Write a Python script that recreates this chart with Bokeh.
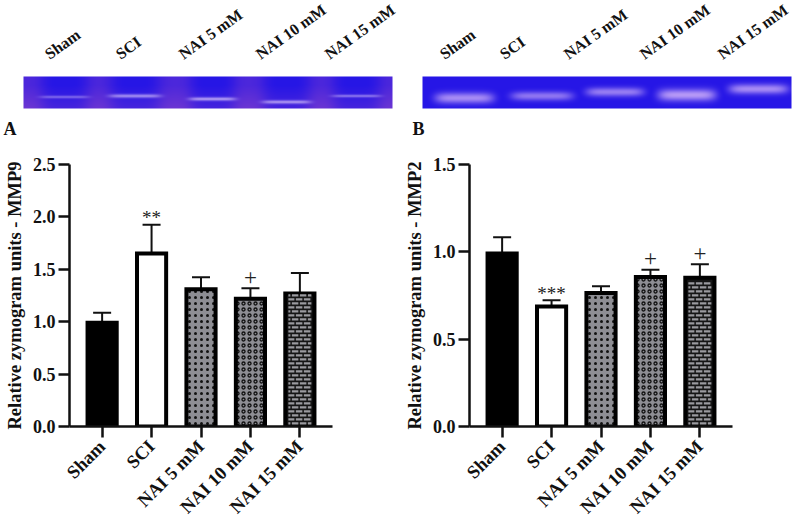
from math import pi

import numpy as np
from bokeh.core.properties import value
from bokeh.embed import file_html
from bokeh.layouts import column, row
from bokeh.models import (ColumnDataSource, FactorRange, FixedTicker,
                          NumeralTickFormatter, Range1d, TeeHead, Whisker)
from bokeh.plotting import figure
from bokeh.resources import INLINE

groups = ["Sham", "SCI", "NAI 5 mM", "NAI 10 mM", "NAI 15 mM"]

mmp9_mean = [0.99, 1.65, 1.31, 1.22, 1.27]
mmp9_top = [1.085, 1.925, 1.425, 1.32, 1.465]
mmp9_marks = ["", "**", "", "+", ""]

mmp2_mean = [0.99, 0.687, 0.765, 0.856, 0.852]
mmp2_top = [1.084, 0.723, 0.803, 0.897, 0.929]
mmp2_marks = ["", "***", "", "+", "+"]

# gel bands: start, end, height in the strip (px), half thickness, brightness
gel_a_bands = [(16, 65, 20, 1.3, 0.45), (85, 137, 19, 1.8, 0.65), (165, 212, 22, 1.7, 0.75),
               (238, 287, 25, 1.7, 0.7), (308, 357, 19, 1.3, 0.55)]
gel_b_bands = [(12, 71, 21, 5.5, 0.85), (88, 150, 19, 4.5, 0.7), (163, 221, 15, 4.5, 0.75),
               (235, 293, 18, 6.0, 0.95), (306, 365, 12, 5.0, 0.85)]
gel_a_labels = [46, 117, 180, 257, 326]
gel_b_labels = [41, 101, 165, 241, 319]

SERIF = "Liberation Serif"
FILLS = ["black", "white", "#8e8e94", "#8e8e94", "#151515"]
HATCH = ["blank", "blank", "dot", "ring", "blank"]
HATCH_COLOR = ["black", "black", "#111111", "#111111", "black"]
HATCH_SCALE = [8, 8, 6, 6, 8]
HATCH_WEIGHT = [1, 1, 0.7, 1.3, 1]
FRAME_W = 263
FRAME_H = 262


def brick_cells(mean, ymax):
    # the brick bar has no hatch of that kind, so its bricks are small quads up the bar
    px_x = 5.32 / FRAME_W
    px_y = ymax / FRAME_H
    left, right, bottom, top = [], [], [], []
    for n, y in enumerate(np.arange(2, mean / px_y - 3, 4)):
        for x in np.arange(-16 + 4 * (n % 2), 14, 8):
            x0, x1 = max(x, -11.5), min(x + 6.5, 11.5)
            if x1 > x0:
                left.append(4.5 + x0 * px_x)
                right.append(4.5 + x1 * px_x)
                bottom.append(y * px_y)
                top.append((y + 2.2) * px_y)
    return left, right, bottom, top


def make_chart(means, tops, marks, ymax, yticks, ylabel, width):
    offsets = [-7 if "*" in m else -11 for m in marks]
    sizes = ["19px" if "*" in m else "23px" for m in marks]
    source = ColumnDataSource(dict(group=groups, mean=means, top=tops, mark=marks, fill=FILLS, off=offsets,
                                   size=sizes, hatch=HATCH, hatch_color=HATCH_COLOR, scale=HATCH_SCALE,
                                   weight=HATCH_WEIGHT))
    p = figure(width=width, height=371, x_range=FactorRange(factors=groups), y_range=Range1d(0, ymax),
               output_backend="svg", toolbar_location=None, frame_align=False,
               frame_width=FRAME_W, frame_height=FRAME_H,
               min_border_left=69, min_border_right=width - 69 - FRAME_W, min_border_top=14, min_border_bottom=95)
    p.x_range.range_padding = 0.16
    p.x_range.range_padding_units = "absolute"
    p.x_range.factor_padding = 0
    p.outline_line_color = None
    p.grid.visible = False

    p.add_layout(Whisker(base="group", upper="top", lower="mean", source=source, line_width=2,
                         line_color="#111111", upper_head=TeeHead(size=18, line_width=2, line_color="#111111"),
                         lower_head=None, level="underlay"))
    p.vbar(x="group", top="mean", bottom=0, width=0.59, source=source, fill_color="fill",
           line_color="black", line_width=4, line_join="miter", hatch_pattern="hatch",
           hatch_color="hatch_color", hatch_scale="scale", hatch_weight="weight", hatch_alpha=1.0)
    left, right, bottom, top = brick_cells(means[4], ymax)
    p.quad(left=left, right=right, bottom=bottom, top=top, fill_color="#9a9a9f", line_color=None)
    p.text(x="group", y="top", text="mark", source=source, text_font=value(SERIF), text_font_size="size",
           text_align="center", text_baseline="middle", y_offset="off", text_color="#222222")

    p.yaxis.ticker = FixedTicker(ticks=yticks)
    p.yaxis.formatter = NumeralTickFormatter(format="0.0")
    p.yaxis.axis_label = ylabel
    p.yaxis.axis_label_standoff = 5
    p.yaxis.axis_label_text_font = SERIF
    p.yaxis.axis_label_text_font_style = "bold"
    p.yaxis.axis_label_text_font_size = "18.5px"
    p.yaxis.axis_label_text_color = "#111111"
    p.axis.major_label_text_font = SERIF
    p.axis.major_label_text_font_style = "bold"
    p.axis.major_label_text_color = "#111111"
    p.yaxis.major_label_text_font_size = "18px"
    p.yaxis.major_label_standoff = 3
    p.xaxis.major_label_text_font_size = "18.5px"
    p.xaxis.major_label_orientation = pi / 4
    p.xaxis.major_label_standoff = 6
    p.axis.axis_line_width = 2.5
    p.axis.axis_line_color = "#111111"
    p.axis.major_tick_line_width = 2.5
    p.axis.major_tick_line_color = "#111111"
    p.axis.major_tick_in = 0
    p.axis.major_tick_out = 11
    p.axis.minor_tick_line_color = None
    return p


def gel_image(bands, strong_lanes, band_rgb):
    w, h = 369, 32
    xx, yy = np.meshgrid(np.arange(w), np.arange(h))
    r = np.full((h, w), 38.0)
    g = np.full((h, w), 22.0)
    b = np.full((h, w), 230.0)
    glow = np.zeros((h, w))
    for start, end, mid, half, level in bands:
        cx, hw = (start + end) / 2, (end - start) / 2
        along = np.exp(-(np.abs(xx - cx) / hw) ** 6)
        across = np.exp(-((yy - mid) / half) ** 2)
        glow = np.maximum(glow, along * across * level)
    if strong_lanes:
        # purple haze between the lanes and along the lower edge of the strip
        haze = np.clip((yy - 8) / 24, 0, 1) * 0.3
        lanes = np.ones((h, w))
        for start, end, mid, half, level in bands:
            cx, hw = (start + end) / 2, (end - start) / 2
            lanes *= 1 - np.exp(-(np.abs(xx - cx) / hw) ** 4)
        haze = np.clip(haze + lanes * 0.35, 0, 1)
        r += haze * 110
        g += haze * 50
        b -= haze * 30
    r = r + glow * (band_rgb[0] - r)
    g = g + glow * (band_rgb[1] - g)
    b = b + glow * (band_rgb[2] - b)
    img = np.zeros((h, w), dtype=np.uint32)
    view = img.view(dtype=np.uint8).reshape((h, w, 4))
    view[..., 0] = np.clip(r, 0, 255)
    view[..., 1] = np.clip(g, 0, 255)
    view[..., 2] = np.clip(b, 0, 255)
    view[..., 3] = 255
    return img[::-1]


def make_gel(bands, strong_lanes, band_rgb, strip_x, label_x, letter, letter_x, width):
    h = 150
    p = figure(width=width, height=h, x_range=Range1d(0, width), y_range=Range1d(0, h),
               output_backend="svg", toolbar_location=None, min_border=0, outline_line_color=None,
               frame_align=False)
    p.axis.visible = False
    p.grid.visible = False
    p.image_rgba(image=[gel_image(bands, strong_lanes, band_rgb)], x=strip_x, y=h - 108, dw=369, dh=32)
    p.text(x=label_x, y=[h - 55] * 5, text=groups, angle=0.62, text_font=value(SERIF),
           text_font_style="bold", text_font_size="16px", text_baseline="middle", text_color="#111111")
    p.text(x=[letter_x], y=[h - 128], text=[letter], text_font=value(SERIF), text_font_style="bold",
           text_font_size="18px", text_baseline="middle", text_color="#111111")
    return p


gel_a = make_gel(gel_a_bands, True, (225, 205, 250), 23, gel_a_labels, "A", 3, 400)
gel_b = make_gel(gel_b_bands, False, (190, 160, 248), 22, gel_b_labels, "B", 12, 396)
chart_a = make_chart(mmp9_mean, mmp9_top, mmp9_marks, 2.5, [0, 0.5, 1, 1.5, 2, 2.5],
                     "Relative zymogram units - MMP9", 400)
chart_b = make_chart(mmp2_mean, mmp2_top, mmp2_marks, 1.5, [0, 0.5, 1, 1.5],
                     "Relative zymogram units - MMP2", 396)

page = row(column(gel_a, chart_a, spacing=0), column(gel_b, chart_b, spacing=0), spacing=0)
open("out.html", "w").write(file_html(page, INLINE))
